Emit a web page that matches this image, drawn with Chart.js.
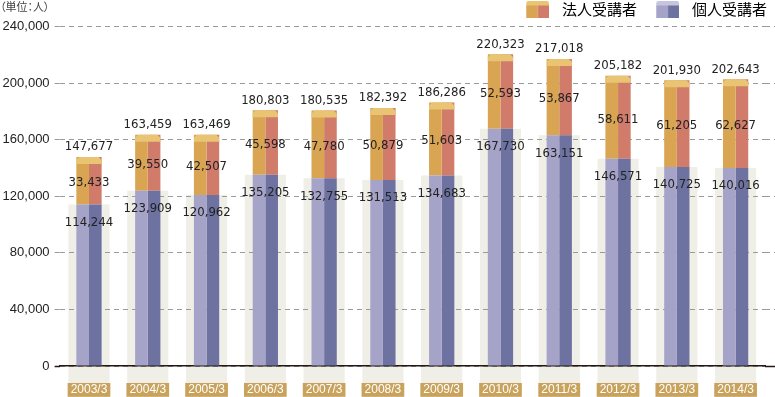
<!DOCTYPE html>
<html lang="ja">
<head>
<meta charset="utf-8">
<style>
  html, body { margin: 0; padding: 0; background: #fff; }
  #wrap { position: relative; width: 775px; height: 397px; }
  #unit { position: absolute; left: 0; top: 0; font: 11px/12px "Noto Sans CJK JP", sans-serif; color: #444; font-feature-settings: "palt"; }
</style>
<script src="https://cdn.jsdelivr.net/npm/chart.js@4.4.1/dist/chart.umd.min.js"></script>
</head>
<body>
<div id="wrap">
  <canvas id="chart" width="775" height="397"></canvas>
  <div id="unit">（単位：人）</div>
</div>
<script>
var years = ['2003/3', '2004/3', '2005/3', '2006/3', '2007/3', '2008/3',
  '2009/3', '2010/3', '2011/3', '2012/3', '2013/3', '2014/3'];
var personal = [114244, 123909, 120962, 135205, 132755, 131513,
  134683, 167730, 163151, 146571, 140725, 140016];
var corporate = [33433, 39550, 42507, 45598, 47780, 50879,
  51603, 52593, 53867, 58611, 61205, 62627];
var totals = [147677, 163459, 163469, 180803, 180535, 182392,
  186286, 220323, 217018, 205182, 201930, 202643];
var yTicks = [0, 40000, 80000, 120000, 160000, 200000, 240000];

var TAN = '#d9a553', SALMON = '#d17c6b', CAP = '#e9c473';
var LILAC = '#a6a3c9', INDIGO = '#6d72a1', LILAC_CAP = '#c6c4de';
var SHADE = '#efeee7';
var numFont = '13px "Liberation Sans Narrow", "DejaVu Sans Condensed", sans-serif';

function fmt(v) { return v.toLocaleString('en-US'); }

// little 3d box used as the legend marker
function swatch(light, dark, cap) {
  var c = document.createElement('canvas');
  c.width = 29; c.height = 17;
  var g = c.getContext('2d');
  var x0 = 6, w = 23;
  g.fillStyle = light; g.fillRect(x0, 4, w / 2, 13);
  g.fillStyle = dark; g.fillRect(x0 + w / 2, 4, w / 2, 13);
  g.fillStyle = cap;
  g.beginPath();
  g.moveTo(x0, 5); g.lineTo(x0, 2); g.lineTo(x0 + 2, 0);
  g.lineTo(x0 + w - 2, 0); g.lineTo(x0 + w, 2); g.lineTo(x0 + w, 5);
  g.closePath(); g.fill();
  return c;
}

var barDecor = {
  id: 'barDecor',
  beforeDraw: function (chart) {
    var x = chart.scales.x, y = chart.scales.y, ctx = chart.ctx;
    var w = x.width / years.length * 0.7;
    ctx.save();
    ctx.fillStyle = SHADE;
    personal.forEach(function (v, i) {
      var cx = x.getPixelForValue(i), top = y.getPixelForValue(v);
      ctx.fillRect(cx - w / 2, top, w, chart.height - top);
    });
    ctx.restore();
  },
  afterDatasetsDraw: function (chart) {
    var ctx = chart.ctx, y = chart.scales.y;
    var left = chart.getDatasetMeta(1).data, right = chart.getDatasetMeta(3).data;
    ctx.save();
    years.forEach(function (lab, i) {
      var l = left[i], r = right[i];
      var x0 = l.x - l.width / 2, x1 = r.x + r.width / 2, top = l.y;
      var cx = (x0 + x1) / 2;
      ctx.fillStyle = CAP;
      ctx.beginPath();
      ctx.moveTo(x0, top + 7); ctx.lineTo(x0, top + 3); ctx.lineTo(x0 + 3, top);
      ctx.lineTo(x1 - 3, top); ctx.lineTo(x1, top + 3); ctx.lineTo(x1, top + 7);
      ctx.closePath(); ctx.fill();

      var pTop = y.getPixelForValue(personal[i]);
      ctx.fillStyle = '#222';
      ctx.font = numFont;
      ctx.textAlign = 'center';
      ctx.textBaseline = 'middle';
      ctx.fillText(fmt(totals[i]), cx, top - 10);
      ctx.fillText(fmt(corporate[i]), cx, (top + pTop) / 2 + 2);
      ctx.fillText(fmt(personal[i]), cx, pTop + 18);
    });
    ctx.restore();
  }
};

function tickCol(c) { return c.tick && c.tick.value === 0 ? '#231815' : '#9a9a9a'; }
function tickW(c) { return c.tick && c.tick.value === 0 ? 1.5 : 1; }
function tickDash(c) { return c.tick && c.tick.value === 0 ? [] : [5, 4]; }

var half = { categoryPercentage: 0.43, barPercentage: 1, borderWidth: 0 };

new Chart(document.getElementById('chart'), {
  type: 'bar',
  data: {
    labels: years,
    datasets: [
      Object.assign({ label: '個人受講者', data: personal, backgroundColor: LILAC, stack: 'L' }, half),
      Object.assign({ label: '法人受講者', data: corporate, backgroundColor: TAN, stack: 'L' }, half),
      Object.assign({ label: '個人受講者', data: personal, backgroundColor: INDIGO, stack: 'R' }, half),
      Object.assign({ label: '法人受講者', data: corporate, backgroundColor: SALMON, stack: 'R' }, half)
    ]
  },
  options: {
    responsive: false,
    animation: false,
    layout: { padding: { top: -6.5, left: 2.6, right: 0, bottom: 0 } },
    plugins: {
      tooltip: { enabled: false },
      legend: {
        position: 'top',
        align: 'end',
        labels: {
          usePointStyle: true,
          pointStyleWidth: 39.5,
          padding: 8,
          color: '#333',
          font: { family: '"Noto Sans CJK JP", sans-serif', size: 15 },
          generateLabels: function () {
            return [
              { text: '法人受講者', pointStyle: swatch(TAN, SALMON, CAP), fillStyle: TAN, lineWidth: 0, datasetIndex: 1 },
              { text: '個人受講者', pointStyle: swatch(LILAC, INDIGO, LILAC_CAP), fillStyle: LILAC, lineWidth: 0, datasetIndex: 0 }
            ];
          }
        }
      }
    },
    scales: {
      x: {
        stacked: true,
        afterFit: function (s) { s.height = 31; },
        grid: { display: false, drawTicks: false },
        border: { display: true, color: '#231815', width: 1.5 },
        ticks: {
          color: '#fff',
          padding: 17,
          font: { family: '"Liberation Sans", Arial, sans-serif', size: 12, lineHeight: 1.15 },
          showLabelBackdrop: true,
          backdropColor: '#c9a35c',
          backdropPadding: { x: 3, y: 0 }
        }
      },
      y: {
        stacked: true,
        min: 0,
        max: 240000,
        afterFit: function (s) { s.width = 57; },
        afterBuildTicks: function (s) { s.ticks = yTicks.map(function (v) { return { value: v }; }); },
        grid: { color: '#9a9a9a', lineWidth: 1, tickLength: 5, tickColor: tickCol, tickWidth: tickW, tickBorderDash: tickDash },
        border: { display: false, dash: [5, 4] },
        ticks: {
          color: '#222',
          padding: 5,
          font: { family: '"Liberation Sans", Arial, sans-serif', size: 13 },
          callback: function (v) { return fmt(v); }
        }
      },
      y2: {
        position: 'right',
        min: 0,
        max: 240000,
        afterBuildTicks: function (s) { s.ticks = yTicks.map(function (v) { return { value: v }; }); },
        grid: { drawOnChartArea: false, tickLength: 10, tickColor: tickCol, tickWidth: tickW, tickBorderDash: tickDash },
        border: { display: false },
        ticks: { display: false }
      }
    }
  },
  plugins: [barDecor]
});
</script>
</body>
</html>
